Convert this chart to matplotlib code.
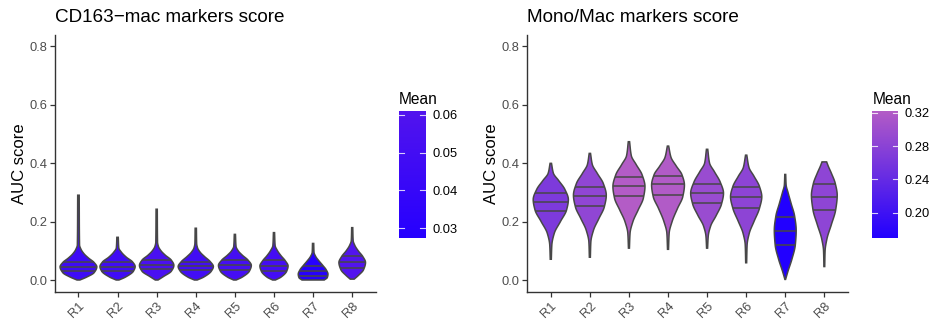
import numpy as np
import matplotlib
matplotlib.use("Agg")
import matplotlib.pyplot as plt
from matplotlib.colors import LinearSegmentedColormap, Normalize

plt.rcParams['font.family'] = ['Liberation Sans', 'DejaVu Sans']

categories = ["R1", "R2", "R3", "R4", "R5", "R6", "R7", "R8"]

# ---------- Panel 1: CD163-mac markers score ----------
cd163_title = "CD163\u2212mac markers score"
cd163_mean = [0.046, 0.047, 0.055, 0.049, 0.051, 0.050, 0.0275, 0.061]
cd163_q25 = [0.031, 0.032, 0.036, 0.034, 0.034, 0.032, 0.015, 0.040]
cd163_q50 = [0.046, 0.046, 0.051, 0.048, 0.050, 0.048, 0.031, 0.060]
cd163_q75 = [0.060, 0.060, 0.068, 0.063, 0.068, 0.068, 0.049, 0.082]
cd163_halfwidth = [0.47, 0.45, 0.44, 0.45, 0.42, 0.36, 0.38, 0.34]
cd163_profile_y = [
    [0.0, 0.01, 0.025, 0.045, 0.06, 0.075, 0.09, 0.105, 0.12, 0.29],
    [0.0, 0.01, 0.03, 0.046, 0.062, 0.078, 0.095, 0.11, 0.146],
    [0.0, 0.012, 0.03, 0.05, 0.068, 0.085, 0.1, 0.115, 0.13, 0.242],
    [0.0, 0.01, 0.03, 0.046, 0.063, 0.08, 0.095, 0.11, 0.125, 0.177],
    [0.0, 0.01, 0.03, 0.05, 0.068, 0.085, 0.1, 0.115, 0.156],
    [0.0, 0.01, 0.03, 0.048, 0.066, 0.083, 0.1, 0.118, 0.162],
    [0.0, 0.008, 0.02, 0.035, 0.05, 0.065, 0.08, 0.095, 0.125],
    [0.003, 0.015, 0.035, 0.06, 0.08, 0.1, 0.118, 0.135, 0.179],
]
cd163_profile_w = [
    [0.08, 0.45, 0.85, 1.0, 0.85, 0.55, 0.3, 0.14, 0.06, 0.04],
    [0.08, 0.45, 0.9, 1.0, 0.85, 0.5, 0.22, 0.07, 0.04],
    [0.08, 0.4, 0.85, 1.0, 0.85, 0.5, 0.25, 0.1, 0.05, 0.035],
    [0.08, 0.45, 0.88, 1.0, 0.82, 0.5, 0.25, 0.1, 0.05, 0.035],
    [0.08, 0.45, 0.88, 1.0, 0.8, 0.45, 0.2, 0.07, 0.035],
    [0.1, 0.5, 0.9, 1.0, 0.8, 0.5, 0.25, 0.08, 0.04],
    [0.75, 0.95, 1.0, 0.88, 0.65, 0.4, 0.18, 0.06, 0.04],
    [0.15, 0.45, 0.85, 1.0, 0.8, 0.45, 0.2, 0.07, 0.04],
]
cd163_cbar_ticks = [0.03, 0.04, 0.05, 0.06]

# ---------- Panel 2: Mono/Mac markers score ----------
mono_title = "Mono/Mac markers score"
mono_mean = [0.265, 0.285, 0.322, 0.320, 0.295, 0.282, 0.170, 0.283]
mono_q25 = [0.235, 0.252, 0.288, 0.291, 0.262, 0.246, 0.120, 0.239]
mono_q50 = [0.268, 0.287, 0.322, 0.327, 0.297, 0.283, 0.169, 0.285]
mono_q75 = [0.296, 0.319, 0.353, 0.357, 0.327, 0.319, 0.216, 0.327]
mono_halfwidth = [0.45, 0.42, 0.41, 0.42, 0.42, 0.40, 0.28, 0.33]
mono_profile_y = [
    [0.071, 0.12, 0.16, 0.2, 0.24, 0.275, 0.31, 0.34, 0.365, 0.399],
    [0.078, 0.13, 0.17, 0.21, 0.25, 0.29, 0.33, 0.365, 0.395, 0.433],
    [0.109, 0.16, 0.2, 0.24, 0.28, 0.32, 0.36, 0.395, 0.425, 0.473],
    [0.105, 0.16, 0.2, 0.245, 0.285, 0.325, 0.36, 0.39, 0.42, 0.458],
    [0.109, 0.15, 0.185, 0.22, 0.26, 0.297, 0.335, 0.37, 0.4, 0.447],
    [0.059, 0.12, 0.16, 0.2, 0.245, 0.285, 0.32, 0.355, 0.385, 0.427],
    [0.002, 0.03, 0.07, 0.12, 0.17, 0.22, 0.26, 0.3, 0.325, 0.361],
    [0.046, 0.1, 0.14, 0.19, 0.24, 0.29, 0.33, 0.365, 0.39, 0.404],
]
mono_profile_w = [
    [0.03, 0.06, 0.2, 0.55, 0.9, 1.0, 0.8, 0.45, 0.15, 0.04],
    [0.03, 0.06, 0.22, 0.55, 0.88, 1.0, 0.82, 0.45, 0.15, 0.04],
    [0.03, 0.07, 0.25, 0.58, 0.9, 1.0, 0.82, 0.45, 0.15, 0.04],
    [0.03, 0.07, 0.25, 0.58, 0.9, 1.0, 0.85, 0.5, 0.18, 0.04],
    [0.03, 0.07, 0.22, 0.55, 0.88, 1.0, 0.8, 0.45, 0.15, 0.04],
    [0.03, 0.06, 0.2, 0.5, 0.85, 1.0, 0.85, 0.5, 0.18, 0.04],
    [0.03, 0.25, 0.6, 0.92, 1.0, 0.85, 0.55, 0.25, 0.08, 0.04],
    [0.03, 0.06, 0.2, 0.55, 0.88, 1.0, 0.85, 0.55, 0.3, 0.18],
]
mono_cbar_ticks = [0.20, 0.24, 0.28, 0.32]

y_ticks = [0.0, 0.2, 0.4, 0.6, 0.8]


def pchip(x, y, xq):
    x = np.asarray(x, float); y = np.asarray(y, float)
    h = np.diff(x); d = np.diff(y) / h
    n = len(x); m = np.zeros(n)
    for k in range(1, n - 1):
        if d[k - 1] * d[k] > 0:
            w1 = 2 * h[k] + h[k - 1]; w2 = h[k] + 2 * h[k - 1]
            m[k] = (w1 + w2) / (w1 / d[k - 1] + w2 / d[k])
    m[0] = d[0]; m[-1] = d[-1]
    idx = np.clip(np.searchsorted(x, xq) - 1, 0, n - 2)
    t = (xq - x[idx]) / h[idx]
    h00 = 2 * t**3 - 3 * t**2 + 1; h10 = t**3 - 2 * t**2 + t
    h01 = -2 * t**3 + 3 * t**2; h11 = t**3 - t**2
    return h00 * y[idx] + h10 * h[idx] * m[idx] + h01 * y[idx + 1] + h11 * h[idx] * m[idx + 1]


def draw_panel(ax, cax, title, means, q25, q50, q75, hw, py, pw, cticks, cmap):
    norm = Normalize(min(means), max(means))
    edge = "#474747"
    for i in range(len(categories)):
        xc = i + 1
        yy = np.linspace(py[i][0], py[i][-1], 300)
        ww = np.clip(pchip(py[i], pw[i], yy), 0.0, None) * hw[i]
        xs = np.concatenate([xc - ww, (xc + ww)[::-1]])
        ys = np.concatenate([yy, yy[::-1]])
        ax.fill(xs, ys, facecolor=cmap(norm(means[i])), edgecolor=edge,
                linewidth=1.1, zorder=3)
        for q in (q25[i], q50[i], q75[i]):
            wq = max(pchip(py[i], pw[i], np.array([q]))[0], 0) * hw[i]
            ax.plot([xc - wq, xc + wq], [q, q], color=edge, lw=1.1, zorder=4,
                    solid_capstyle='butt')
    ax.set_xlim(0.4, 8.6)
    ax.set_ylim(-0.041, 0.838)
    ax.set_xticks(range(1, 9))
    ax.set_xticklabels(categories, rotation=45, ha='right', va='top',
                       rotation_mode='anchor')
    ax.set_yticks(y_ticks)
    ax.set_yticklabels([f"{v:.1f}" for v in y_ticks])
    for s in ("top", "right"):
        ax.spines[s].set_visible(False)
    for s in ("left", "bottom"):
        ax.spines[s].set_color("#333333")
        ax.spines[s].set_linewidth(1.0)
    ax.tick_params(axis='both', colors="#333333", labelcolor="#4d4d4d",
                   labelsize=9.3, length=3.5, width=0.9, pad=2)
    ax.set_ylabel("AUC score", fontsize=12, color="black", labelpad=2)
    ax.set_title(title, loc='left', fontsize=13.6, pad=9, x=0.0)

    # colorbar
    vmin, vmax = min(means), max(means)
    grad = np.linspace(vmin, vmax, 256).reshape(-1, 1)
    cax.imshow(grad, aspect='auto', cmap=cmap, norm=norm, origin='lower',
               extent=[0, 1, vmin, vmax])
    cax.set_xlim(0, 1); cax.set_ylim(vmin, vmax)
    for s in cax.spines.values():
        s.set_visible(False)
    cax.set_xticks([])
    cax.yaxis.tick_right()
    cax.set_yticks(cticks)
    cax.set_yticklabels([f"{t:.2f}" for t in cticks])
    cax.tick_params(axis='y', length=0, labelsize=9.3, labelcolor="black", pad=5)
    for t in cticks:
        cax.plot([0, 0.2], [t, t], color="white", lw=0.8, alpha=0.8)
        cax.plot([0.8, 1.0], [t, t], color="white", lw=0.8, alpha=0.8)
    cax.set_title("Mean", loc='left', fontsize=11.2, pad=5, x=0.0)


fig = plt.figure(figsize=(9.35, 3.23), dpi=100)
ax1 = fig.add_axes([0.0588, 0.096, 0.343, 0.7957])
cax1 = fig.add_axes([0.4267, 0.2641, 0.0286, 0.392])
ax2 = fig.add_axes([0.564, 0.096, 0.3427, 0.7957])
cax2 = fig.add_axes([0.9330, 0.2641, 0.0272, 0.392])

cmap1 = LinearSegmentedColormap.from_list("c1", ["#2600FF", "#5214EE"])
cmap2 = LinearSegmentedColormap.from_list("c2", ["#2200FF", "#B35CC6"])

draw_panel(ax1, cax1, cd163_title, cd163_mean, cd163_q25, cd163_q50, cd163_q75,
           cd163_halfwidth, cd163_profile_y, cd163_profile_w, cd163_cbar_ticks, cmap1)
draw_panel(ax2, cax2, mono_title, mono_mean, mono_q25, mono_q50, mono_q75,
           mono_halfwidth, mono_profile_y, mono_profile_w, mono_cbar_ticks, cmap2)

fig.savefig("out.png", dpi=100)
